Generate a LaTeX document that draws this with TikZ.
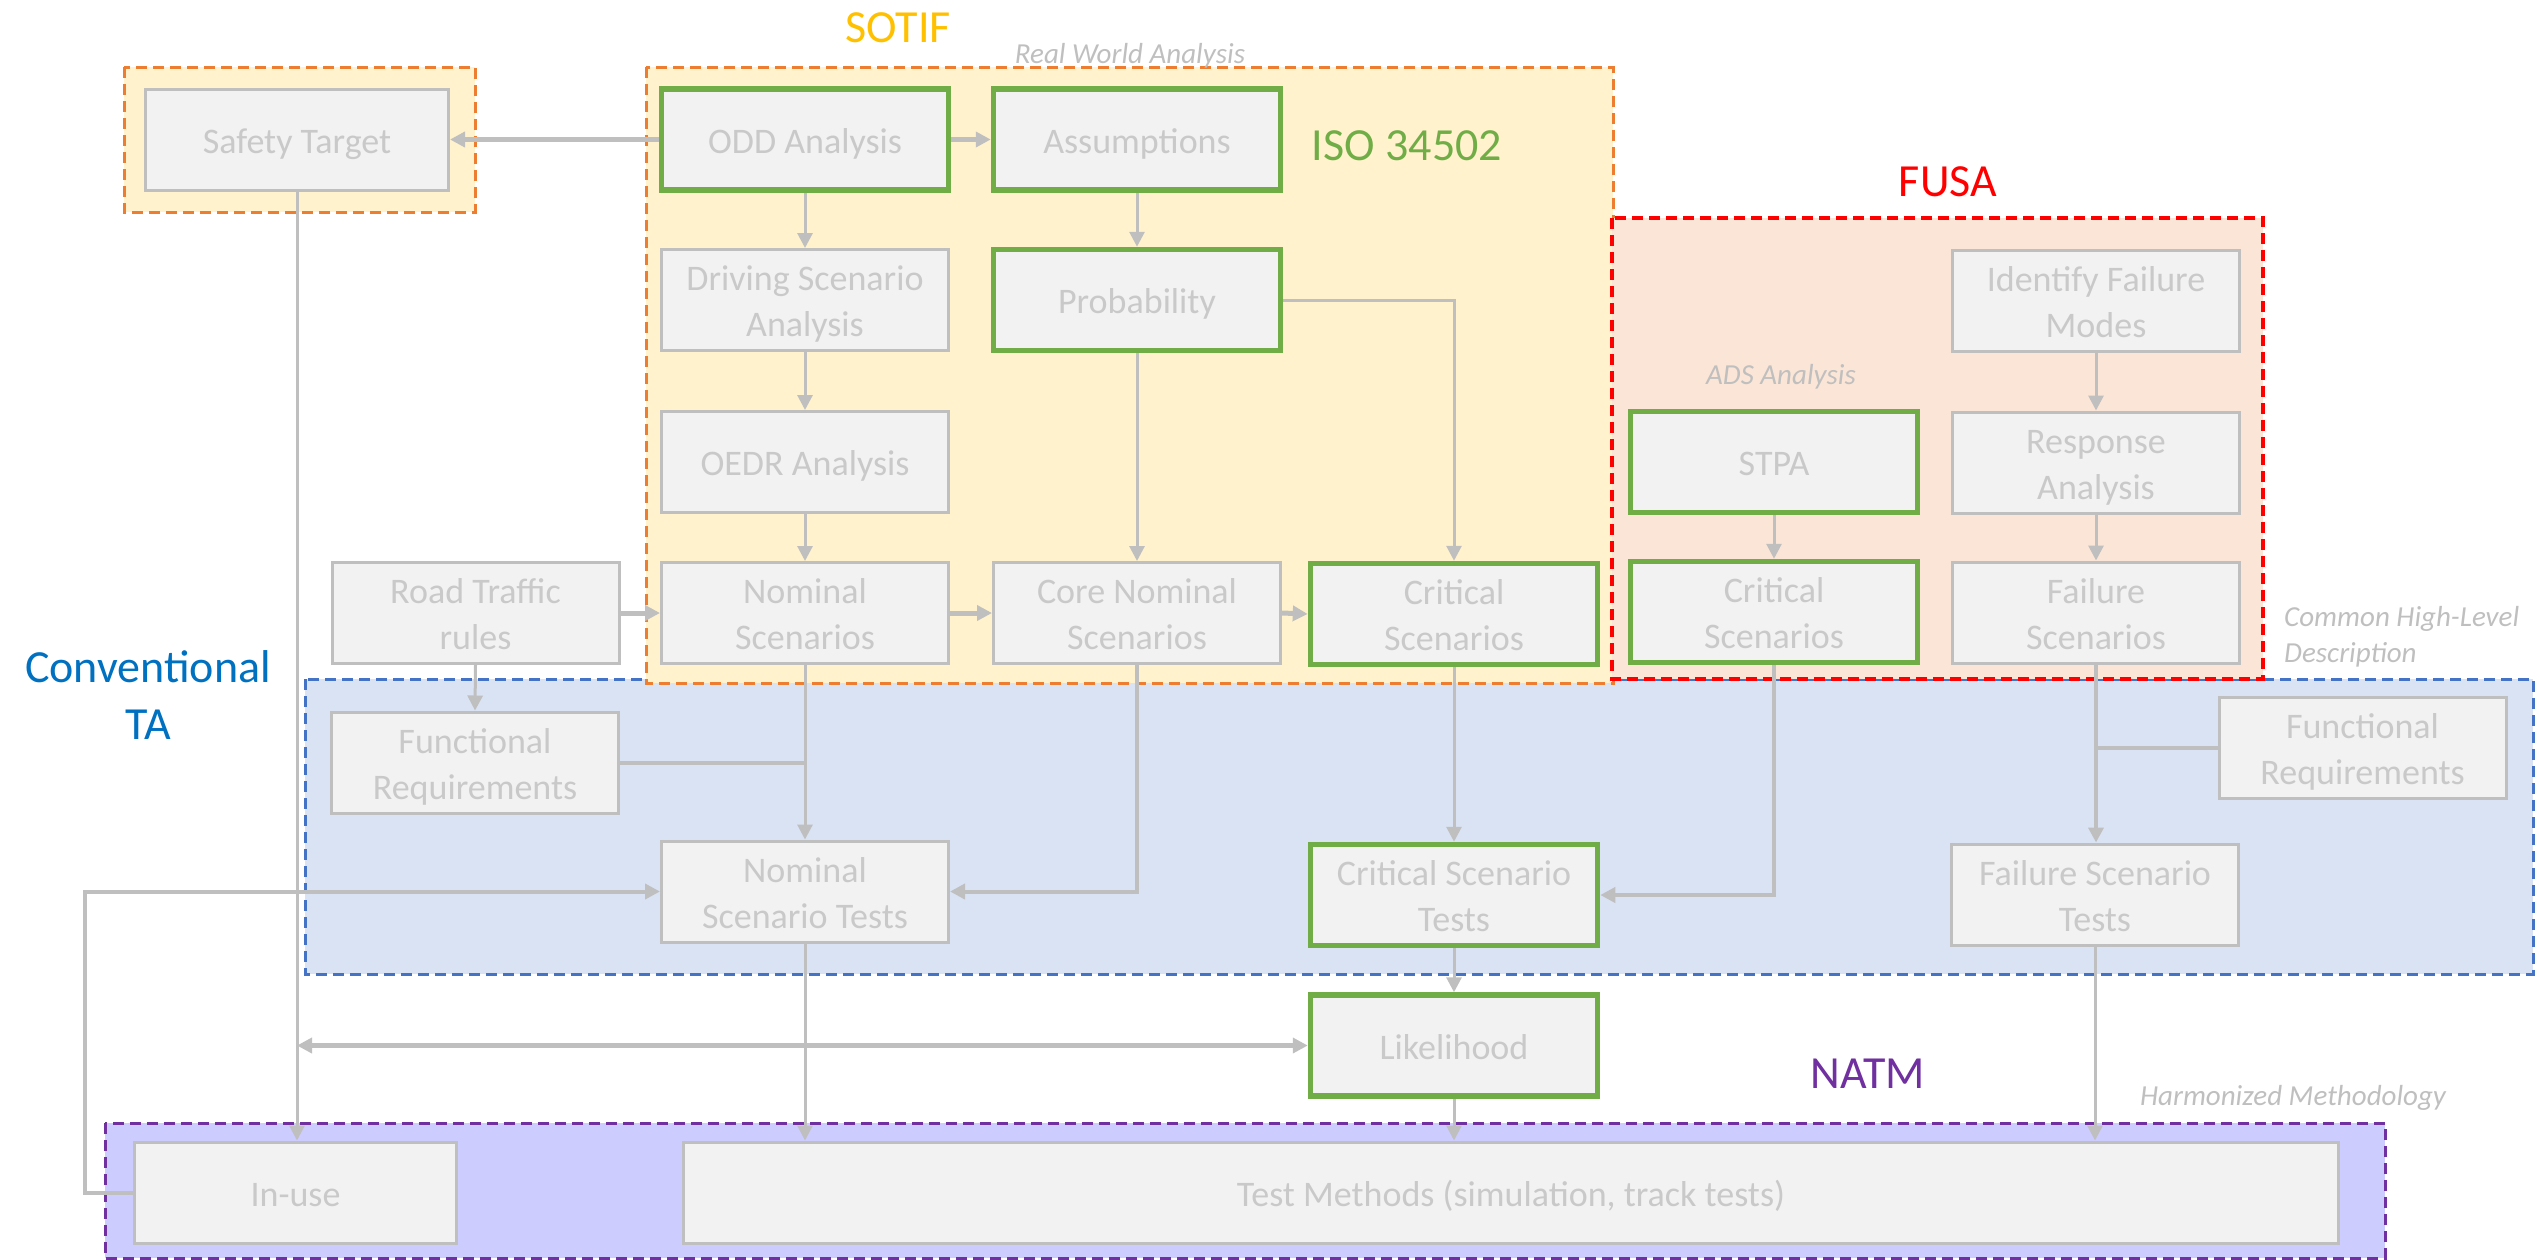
\documentclass[tikz,border=0pt]{standalone}
\usepackage{fontspec}
\setmainfont{Carlito}
\usetikzlibrary{arrows.meta}
\definecolor{boxfill}{HTML}{F2F2F2}
\definecolor{boxline}{HTML}{BFBFBF}
\definecolor{boxtext}{HTML}{C9C9C9}
\definecolor{grn}{HTML}{70AD47}
\definecolor{sotiffill}{HTML}{FFF2CC}
\definecolor{sotifline}{HTML}{ED7D31}
\definecolor{fusafill}{HTML}{FBE5D6}
\definecolor{fusaline}{HTML}{FF0000}
\definecolor{tafill}{HTML}{DAE3F3}
\definecolor{taline}{HTML}{4472C4}
\definecolor{natmfill}{HTML}{CCCCFF}
\definecolor{natmline}{HTML}{7030A0}
\definecolor{sotiftitle}{HTML}{FFC000}
\definecolor{tatitle}{HTML}{0070C0}
\definecolor{labelgray}{HTML}{BFBFBF}
\newcommand\bs{\rule[-0.25em]{0pt}{1.25em}}
\begin{document}
\begin{tikzpicture}[x=1pt,y=-1pt,
  stepbox/.style={draw=boxline, fill=boxfill, line width=3pt, text=boxtext,
    font=\fontsize{36}{43}\selectfont, align=center, inner sep=0pt,
    minimum width=287pt, minimum height=101pt},
  greenbox/.style={stepbox, draw=grn, line width=5.5pt},
  frame/.style={line width=3pt, dash pattern=on 11pt off 6pt},
  tip/.tip={Triangle[length=15pt,width=15pt]},
  conn/.style={draw=boxline, line width=3pt, -tip},
  joinline/.style={draw=boxline, line width=4pt},
  title/.style={font=\fontsize{46}{57}\selectfont, inner sep=0pt},
  note/.style={font=\fontsize{29}{36}\selectfont\itshape, text=labelgray, inner sep=0pt}
]
\useasboundingbox (0,0) rectangle (2539,1259);

% frames
\path[frame, fill=tafill, draw=taline] (305,679) rectangle (2533,974);
\path[frame, fill=sotiffill, draw=sotifline] (124,67) rectangle (475,212);
\path[frame, fill=sotiffill, draw=sotifline] (646,67) rectangle (1613,683);
\path[frame, fill=fusafill, draw=fusaline, line width=3.5pt] (1612,218) rectangle (2263,679);
\path[frame, fill=natmfill, draw=natmline] (105,1123) rectangle (2385,1258);

% labels
\node[title, text=sotiftitle, anchor=base] (tsotif) at (898,42) {SOTIF};
\node[title, text=grn, anchor=base] (tiso) at (1407,160) {ISO 34502};
\node[title, text=fusaline, anchor=base] (tfusa) at (1948,196) {FUSA};
\node[title, text=tatitle, align=center] (tta) at (148,695) {Conventional\\TA};
\node[title, text=natmline, anchor=base] (tnatm) at (1868,1088) {NATM};
\node[note, anchor=base] (lrwa) at (1130,63) {Real World Analysis};
\node[note, anchor=base] (lads) at (1781,384) {ADS Analysis};
\node[note, anchor=base] (lharm) at (2293,1105) {Harmonized Methodology};
\node[note, anchor=north west, align=left] (lchl) at (2284,606) {Common High-Level\\Description};

% boxes
\node[stepbox, minimum width=303pt] (safety) at (297,139.5) {\bs Safety Target\bs};
\node[greenbox] (odd) at (805,139.5) {\bs ODD Analysis\bs};
\node[greenbox] (assump) at (1137,139.5) {\bs Assumptions\bs};
\node[stepbox] (driving) at (805,300) {\bs Driving Scenario\\Analysis\bs};
\node[greenbox] (prob) at (1137,300) {\bs Probability\bs};
\node[stepbox] (oedr) at (805,462) {\bs OEDR Analysis\bs};
\node[stepbox] (road) at (475.5,613) {\bs Road Traffic\\rules\bs};
\node[stepbox] (nominal) at (805,613) {\bs Nominal\\Scenarios\bs};
\node[stepbox] (core) at (1137,613) {\bs Core Nominal\\Scenarios\bs};
\node[greenbox] (critS) at (1454,614) {\bs Critical\\Scenarios\bs};
\node[greenbox] (stpa) at (1774,462) {\bs STPA\bs};
\node[greenbox] (critF) at (1774,612) {\bs Critical\\Scenarios\bs};
\node[stepbox] (ifm) at (2096,300.5) {\bs Identify Failure\\Modes\bs};
\node[stepbox] (resp) at (2096,462.5) {\bs Response\\Analysis\bs};
\node[stepbox] (failS) at (2096,612.5) {\bs Failure\\Scenarios\bs};
\node[stepbox] (funcL) at (475,762.5) {\bs Functional\\Requirements\bs};
\node[stepbox] (funcR) at (2362.5,747.5) {\bs Functional\\Requirements\bs};
\node[stepbox] (nst) at (805,891.5) {\bs Nominal\\Scenario Tests\bs};
\node[greenbox] (cst) at (1454,895) {\bs Critical Scenario\\Tests\bs};
\node[stepbox] (fst) at (2095,894.5) {\bs Failure Scenario\\Tests\bs};
\node[greenbox] (likeli) at (1454,1045.5) {\bs Likelihood\bs};
\node[stepbox, minimum width=322pt] (inuse) at (295.5,1192.5) {\bs In-use\bs};
\node[stepbox, minimum width=1655pt] (testm) at (1511,1192.5) {\bs Test Methods (simulation, track tests)\bs};

% connectors
\draw[conn, line width=4.5pt] (odd.west) -- (safety.east);
\draw[conn, line width=5pt] (odd.east) -- (assump.west);
\draw[conn] (odd.south) -- (driving.north);
\draw[conn] (driving.south) -- (oedr.north);
\draw[conn] (oedr.south) -- (nominal.north);
\draw[conn] (assump.south) -- (prob.north);
\draw[conn] (prob.south) -- (core.north);
\draw[conn] (prob.east) -| (critS.north);
\draw[conn, line width=5pt] (road.east) -- (nominal.west);
\draw[conn, line width=5pt] (nominal.east) -- (core.west);
\draw[conn, line width=5pt] (core.east) -- (critS.west);
\draw[conn] (road.south) -- (funcL.north);
\draw[conn] (nominal.south) -- (nst.north);
\draw[joinline] (funcL.east) -- (funcL.east -| nominal.south);
\draw[conn, line width=4pt] (core.south) |- (nst.east);
\draw[conn] (critS.south) -- (cst.north);
\draw[conn] (stpa.south) -- (critF.north);
\draw[conn, line width=4pt] (critF.south) |- (cst.east);
\draw[conn] (ifm.south) -- (resp.north);
\draw[conn] (resp.south) -- (failS.north);
\draw[conn, line width=4pt] (failS.south) -- (failS.south |- fst.north);
\draw[joinline] (funcR.west) -- (funcR.west -| failS.south);
\draw[conn] (cst.south) -- (likeli.north);
\draw[conn] (likeli.south) -- (likeli.south |- testm.north);
\draw[conn] (nst.south) -- (nst.south |- testm.north);
\draw[conn] (fst.south) -- (fst.south |- testm.north);
\draw[conn] (safety.south) -- (safety.south |- inuse.north);
\coordinate (dj) at (safety.south |- likeli.west);
\draw[conn, tip-tip, line width=4.5pt] (dj) -- (likeli.west);
\coordinate (lp) at (85,1192.5);
\draw[conn, line width=4pt] (inuse.west) -- (lp) |- (nst.west);
\end{tikzpicture}
\end{document}
